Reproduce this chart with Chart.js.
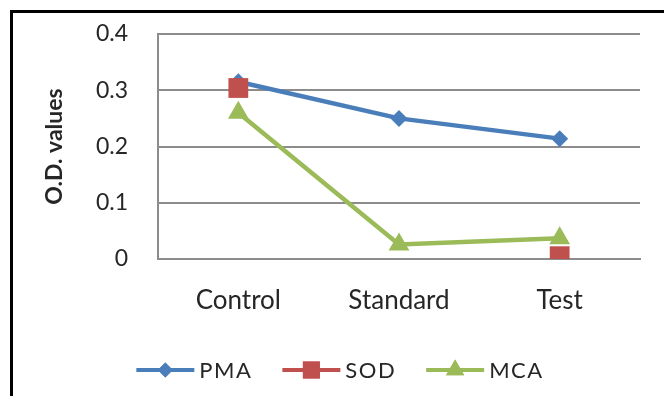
<!DOCTYPE html>
<html>
<head>
<meta charset="utf-8">
<script src="https://cdn.jsdelivr.net/npm/chart.js@4"></script>
<style>
  html, body { margin: 0; padding: 0; background: #fff; }
</style>
</head>
<body>
<canvas id="chart" width="664" height="396"></canvas>
<script>
const categories = ['Control', 'Standard', 'Test'];
const pmaValues = [0.315, 0.25, 0.214];
const sodValues = [0.304, null, 0.005];
const mcaValues = [0.26, 0.026, 0.037];
const yTicks = [0, 0.1, 0.2, 0.3, 0.4];

const FONT = 'Lato, "Open Sans", sans-serif';
const TEXT = '#262626';

const series = [
  { label: 'PMA', data: pmaValues, color: '#4A7EBB', style: 'rectRot', radius: 8.5, legendRadius: 7.5, order: 3 },
  { label: 'SOD', data: sodValues, color: '#C0504D', style: 'rect', radius: 14, legendRadius: 12, order: 1 },
  { label: 'MCA', data: mcaValues, color: '#9BBB59', style: 'triangle', radius: 12, legendRadius: 10.5, order: 2 }
];

// Thin black frame along the left and top edges
const framePlugin = {
  id: 'frame',
  afterDraw(chart) {
    const ctx = chart.ctx;
    ctx.save();
    ctx.fillStyle = '#000';
    ctx.fillRect(10, 10, 3, 386);
    ctx.fillRect(10, 10, 654, 3);
    ctx.restore();
  }
};

// Legend row under the axis: line segment with the marker, then the series name
const lineLegendPlugin = {
  id: 'lineLegend',
  afterDraw(chart) {
    const ctx = chart.ctx;
    const swatchW = 58, textGap = 5, itemGap = 30, y = 370;
    ctx.save();
    ctx.font = '22px ' + FONT;
    ctx.letterSpacing = '1.5px';
    const widths = chart.data.datasets.map(d => ctx.measureText(d.label).width);
    const total = widths.reduce((a, w) => a + swatchW + textGap + w, 0) + itemGap * (widths.length - 1);
    let x = 340 - total / 2;
    chart.data.datasets.forEach((d, i) => {
      const s = series[i];
      ctx.strokeStyle = d.borderColor;
      ctx.lineWidth = 4;
      ctx.beginPath(); ctx.moveTo(x, y); ctx.lineTo(x + swatchW, y); ctx.stroke();
      ctx.fillStyle = d.borderColor;
      Chart.helpers.drawPoint(ctx, { pointStyle: s.style, radius: s.legendRadius, rotation: 0, borderWidth: 0 }, x + swatchW / 2, y);
      ctx.fill();
      ctx.fillStyle = TEXT;
      ctx.textBaseline = 'middle';
      ctx.textAlign = 'left';
      ctx.fillText(d.label, x + swatchW + textGap, y + 1);
      x += swatchW + textGap + widths[i] + itemGap;
    });
    ctx.restore();
  }
};

new Chart(document.getElementById('chart'), {
  type: 'line',
  data: {
    labels: categories,
    datasets: series.map(s => ({
      label: s.label,
      data: s.data,
      borderColor: s.color,
      backgroundColor: s.color,
      borderWidth: 4.5,
      pointStyle: s.style,
      pointRadius: s.radius,
      pointHoverRadius: s.radius,
      pointBorderWidth: 0,
      pointBackgroundColor: s.color,
      spanGaps: false,
      tension: 0,
      order: s.order
    }))
  },
  options: {
    responsive: false,
    animation: false,
    events: [],
    layout: { padding: { left: 37, right: 24, top: 34, bottom: 77 } },
    plugins: {
      tooltip: { enabled: false },
      legend: { display: false }
    },
    scales: {
      x: {
        offset: true,
        grid: { display: false, drawTicks: false },
        border: { display: true, color: '#8c8c8c', width: 2 },
        ticks: { color: TEXT, padding: 26, font: { family: FONT, size: 26 } },
        afterFit(scale) { scale.height = 60; }
      },
      y: {
        min: 0,
        max: 0.4,
        afterBuildTicks(scale) { scale.ticks = yTicks.map(v => ({ value: v })); },
        grid: { color: '#8c8c8c', lineWidth: 2, drawTicks: false },
        border: { display: true, color: '#8c8c8c', width: 2 },
        ticks: { color: TEXT, padding: 30, font: { family: FONT, size: 23 },
                 callback: v => String(v) },
        title: { display: true, text: 'O.D. values', color: TEXT,
                 font: { family: FONT, size: 23, weight: 'bold' } },
        afterFit(scale) {
          scale.width = 121;
          // the label gap is horizontal only; keep it out of the vertical layout
          scale.paddingTop = 0;
          scale.paddingBottom = 0;
        }
      }
    }
  },
  plugins: [framePlugin, lineLegendPlugin]
});
</script>
</body>
</html>
